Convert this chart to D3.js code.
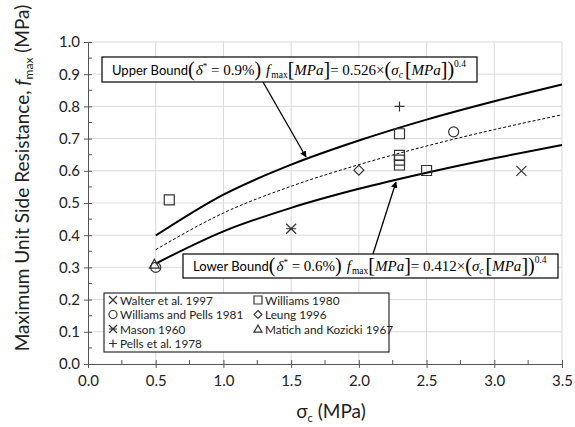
<!DOCTYPE html>
<html><head><meta charset="utf-8">
<script src="https://cdn.jsdelivr.net/npm/d3@7"></script>
<style>body{margin:0;background:#fff}svg{display:block}</style>
</head><body><svg id="c" width="575" height="427"></svg>
<script>
const xTicks = [0,0.5,1.0,1.5,2.0,2.5,3.0,3.5];
const yTicks = [0,0.1,0.2,0.3,0.4,0.5,0.6,0.7,0.8,0.9,1.0];
const curveX = [0.5,1.0,1.5,2.0,2.5,3.0,3.5];
const upperY = [0.399,0.526,0.619,0.694,0.759,0.816,0.868];
const meanY  = [0.355,0.469,0.552,0.619,0.677,0.728,0.774];
const lowerY = [0.312,0.412,0.485,0.544,0.594,0.639,0.680];
const walter = [[3.2,0.60]];
const williams80 = [[0.6,0.51],[2.3,0.715],[2.3,0.648],[2.3,0.633],[2.3,0.618],[2.5,0.601]];
const williamsPells = [[2.7,0.721],[0.5,0.30]];
const leung = [[2.0,0.602]];
const mason = [[1.5,0.42]];
const matich = [[0.49,0.31]];
const pells = [[2.3,0.80]];

const svg = d3.select('#c');
const L=88,R=562,T=42,B=364;
const x = d3.scaleLinear().domain([0,3.5]).range([L,R]);
const y = d3.scaleLinear().domain([0,1]).range([B,T]);
const font = "Lato, 'Open Sans', sans-serif";
const serif = "'Liberation Serif', 'DejaVu Serif', serif";
const ink = '#222';

// grid
svg.append('g').selectAll('line').data(xTicks.slice(1)).join('line')
  .attr('x1',d=>x(d)).attr('x2',d=>x(d)).attr('y1',T).attr('y2',B)
  .attr('stroke','#d9d9d9').attr('stroke-width',1);
svg.append('g').selectAll('line').data(yTicks.slice(1)).join('line')
  .attr('x1',L).attr('x2',R).attr('y1',d=>y(d)).attr('y2',d=>y(d))
  .attr('stroke','#d9d9d9').attr('stroke-width',1);

// axes
const xAx = svg.append('g').attr('transform',`translate(0,${B})`)
  .call(d3.axisBottom(x).tickValues(xTicks).tickFormat(d3.format('.1f')).tickSizeInner(4).tickSizeOuter(0));
xAx.selectAll('.tick line').attr('y1',-4);
const yAx = svg.append('g').attr('transform',`translate(${L},0)`)
  .call(d3.axisLeft(y).tickValues(yTicks).tickFormat(d3.format('.1f')).tickSizeInner(4).tickSizeOuter(0));
yAx.selectAll('.tick line').attr('x1',4);
[xAx,yAx].forEach(a=>{
  a.select('.domain').attr('stroke','#555');
  a.selectAll('.tick line').attr('stroke','#555');
  a.selectAll('.tick text').attr('font-family',font).attr('font-size',15).attr('fill',ink);
});
xAx.selectAll('.tick text').attr('dy','1.0em');
yAx.selectAll('.tick text').attr('x',-8);
// minor ticks
const xMinor = d3.range(0.25,3.5,0.5);
svg.append('g').selectAll('line').data(xMinor).join('line')
  .attr('x1',d=>x(d)).attr('x2',d=>x(d)).attr('y1',B).attr('y2',B-4).attr('stroke','#555');
const yMinor = d3.range(0.05,1,0.1);
svg.append('g').selectAll('line').data(yMinor).join('line')
  .attr('x1',L).attr('x2',L+4).attr('y1',d=>y(d)).attr('y2',d=>y(d)).attr('stroke','#555');

// curves
const line = d3.line().x(d=>x(d[0])).y(d=>y(d[1])).curve(d3.curveMonotoneX);
const zip = ys => curveX.map((v,i)=>[v,ys[i]]);
svg.append('path').attr('d',line(zip(upperY))).attr('fill','none').attr('stroke','#000').attr('stroke-width',2);
svg.append('path').attr('d',line(zip(lowerY))).attr('fill','none').attr('stroke','#000').attr('stroke-width',2);
svg.append('path').attr('d',line(zip(meanY))).attr('fill','none').attr('stroke','#000').attr('stroke-width',1).attr('stroke-dasharray','3,2');

// markers
const mk = '#333';
function sym(g, type, cx, cy, s){
  s = s||5;
  const p = g.append('path').attr('stroke',mk).attr('stroke-width',1.2).attr('fill','none');
  if(type==='x') p.attr('d',`M${cx-s},${cy-s}L${cx+s},${cy+s}M${cx-s},${cy+s}L${cx+s},${cy-s}`);
  if(type==='sq') p.attr('d',`M${cx-s},${cy-s}h${2*s}v${2*s}h${-2*s}Z`);
  if(type==='o') p.attr('d',`M${cx-s},${cy}a${s},${s} 0 1,0 ${2*s},0a${s},${s} 0 1,0 ${-2*s},0`);
  if(type==='d') p.attr('d',`M${cx},${cy-s}L${cx+s},${cy}L${cx},${cy+s}L${cx-s},${cy}Z`);
  if(type==='ast') p.attr('d',`M${cx-s},${cy-s}L${cx+s},${cy+s}M${cx-s},${cy+s}L${cx+s},${cy-s}M${cx-s},${cy}L${cx+s},${cy}`);
  if(type==='tri') p.attr('d',`M${cx},${cy-s}L${cx+s},${cy+s*0.8}L${cx-s},${cy+s*0.8}Z`);
  if(type==='+') p.attr('d',`M${cx-s},${cy}L${cx+s},${cy}M${cx},${cy-s}L${cx},${cy+s}`);
}
const mg = svg.append('g');
const series = [
  ['x',walter,'Walter et al. 1997'],
  ['sq',williams80,'Williams 1980'],
  ['o',williamsPells,'Williams and Pells 1981'],
  ['d',leung,'Leung 1996'],
  ['ast',mason,'Mason 1960'],
  ['tri',matich,'Matich and Kozicki 1967'],
  ['+',pells,'Pells et al. 1978']
];
series.forEach(([t,pts])=>pts.forEach(p=>sym(mg,t,x(p[0]),y(p[1]),5)));

// arrows
const defs = svg.append('defs');
defs.append('marker').attr('id','ah').attr('viewBox','0 0 10 10').attr('refX',9).attr('refY',5)
  .attr('markerWidth',5).attr('markerHeight',5).attr('orient','auto')
  .append('path').attr('d','M0,0L10,5L0,10Z').attr('fill','#000');
svg.append('line').attr('x1',263).attr('y1',82).attr('x2',306).attr('y2',157).attr('stroke','#000').attr('stroke-width',1.3).attr('marker-end','url(#ah)');
svg.append('line').attr('x1',373).attr('y1',254).attr('x2',396).attr('y2',182).attr('stroke','#000').attr('stroke-width',1.3).attr('marker-end','url(#ah)');

// equation boxes
function eqBox(bx,by,bw,bh,label,pct,coef){
  svg.append('rect').attr('x',bx).attr('y',by).attr('width',bw).attr('height',bh).attr('fill','#fff').attr('stroke','#000').attr('stroke-width',1.2);
  const t = svg.append('text').attr('x',bx+10).attr('y',by+bh/2+5).attr('font-size',15).attr('font-family',serif).attr('fill','#000');
  const sp = (txt,o)=>{const s=t.append('tspan').text(txt); Object.entries(o||{}).forEach(([k,v])=>s.attr(k,v)); return s;};
  sp(label,{'font-family':font,'font-size':13});
  sp('(',{'font-size':20,dy:1});
  sp('δ',{'font-style':'italic',dy:-1,dx:1});
  sp('*',{'font-size':9,dy:-6});
  sp(' = ' + pct,{dy:6});
  sp(')',{'font-size':20,dy:1});
  sp('f',{'font-style':'italic',dy:-1,dx:5});
  sp('max',{'font-size':9.5,dy:3,dx:1});
  sp('[',{'font-size':20,dy:-2});
  sp('MPa',{'font-style':'italic',dy:-1});
  sp(']',{'font-size':20,dy:1});
  sp('= ' + coef + '×',{dy:-1});
  sp('(',{'font-size':20,dy:1});
  sp('σ',{'font-style':'italic',dy:-1});
  sp('c',{'font-size':9.5,'font-style':'italic',dy:3});
  sp('[',{'font-size':20,dy:-2,dx:2});
  sp('MPa',{'font-style':'italic',dy:-1});
  sp('])',{'font-size':20,dy:1});
  sp('0.4',{'font-size':9.5,dy:-9});
}
eqBox(102,57,375,25,'Upper Bound','0.9%','0.526');
eqBox(183,254,375,24,'Lower Bound','0.6%','0.412');

// legend
svg.append('rect').attr('x',104).attr('y',293).attr('width',285).attr('height',59).attr('fill','#fff').attr('stroke','#000').attr('stroke-width',1);
const lg = svg.append('g');
const lpos = [[0,0],[1,0],[0,1],[1,1],[0,2],[1,2],[0,3]];
series.forEach(([t,pts,name],i)=>{
  const cx = lpos[i][0]? 258 : 113;
  const cy = 300 + lpos[i][1]*14.5;
  sym(lg,t,cx,cy,4);
  lg.append('text').attr('x',cx+7).attr('y',cy+4.5).attr('font-family',font).attr('font-size',11.8).attr('fill',ink).text(name);
});

// axis titles
svg.append('text').attr('x',331).attr('y',418).attr('text-anchor','middle').attr('font-family',font).attr('font-size',19).attr('fill',ink)
  .call(t=>{t.append('tspan').text('σ');t.append('tspan').attr('font-size',11).attr('dy',4).text('c');t.append('tspan').attr('dy',-4).text(' (MPa)');});
svg.append('text').attr('transform','translate(29,178) rotate(-90)').attr('text-anchor','middle').attr('font-family',font).attr('font-size',19).attr('fill',ink)
  .call(t=>{t.append('tspan').text('Maximum Unit Side Resistance, ');t.append('tspan').attr('font-style','italic').text('f');t.append('tspan').attr('font-size',12).attr('dy',4).text('max');t.append('tspan').attr('dy',-4).text(' (MPa)');});
</script></body></html>
